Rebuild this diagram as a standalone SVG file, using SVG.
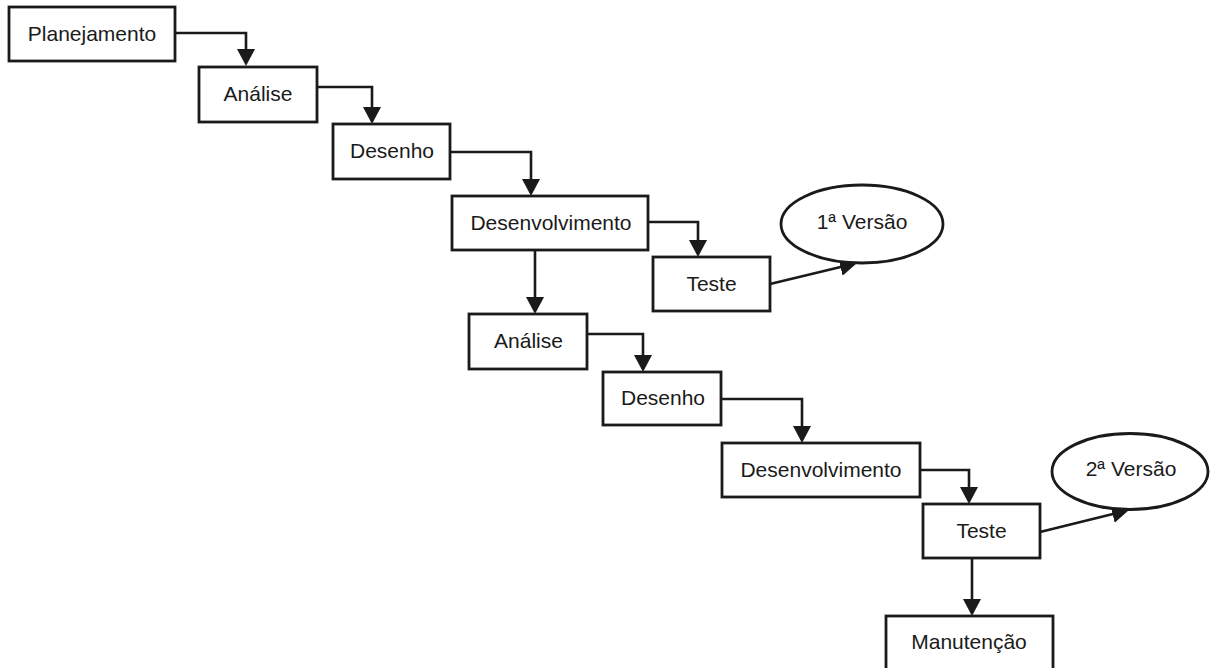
<svg xmlns="http://www.w3.org/2000/svg" width="1213" height="668" viewBox="0 0 1213 668">
<style>
.box{fill:#fff;stroke:#1a1a1a;stroke-width:2.8}
.lbl{font-family:"Liberation Sans",Arial,sans-serif;font-size:21px;fill:#1a1a1a;text-anchor:middle}
.con{fill:none;stroke:#1a1a1a;stroke-width:2.6}
</style>
<defs>
<marker id="arr" markerUnits="userSpaceOnUse" markerWidth="18" markerHeight="18" refX="14" refY="9" orient="auto">
<path d="M0,0 L17,9 L0,18 z" fill="#1a1a1a"/>
</marker>
</defs>
<rect width="1213" height="668" fill="#fff"/>
<g id="connectors">
<path class="con" marker-end="url(#arr)" d="M175,33 H246 V63"/>
<path class="con" marker-end="url(#arr)" d="M317,87 H372 V121"/>
<path class="con" marker-end="url(#arr)" d="M450,152 H531 V193"/>
<path class="con" marker-end="url(#arr)" d="M648,222 H698 V254"/>
<path class="con" marker-end="url(#arr)" d="M770,284 L854.1,263.7"/>
<path class="con" marker-end="url(#arr)" d="M535,250 V311"/>
<path class="con" marker-end="url(#arr)" d="M587,334 H643 V369"/>
<path class="con" marker-end="url(#arr)" d="M721,399 H802 V440"/>
<path class="con" marker-end="url(#arr)" d="M920,470 H969 V501"/>
<path class="con" marker-end="url(#arr)" d="M1040,532 L1126.1,510.7"/>
<path class="con" marker-end="url(#arr)" d="M972,558 V613"/>
</g>
<g id="n-planejamento"><rect class="box" x="9" y="7" width="166" height="54"/><text class="lbl" x="92" y="41">Planejamento</text></g>
<g id="n-analise1"><rect class="box" x="199" y="67" width="118" height="55"/><text class="lbl" x="258" y="101">Análise</text></g>
<g id="n-desenho1"><rect class="box" x="333" y="124" width="117" height="55"/><text class="lbl" x="392" y="158">Desenho</text></g>
<g id="n-desenvolvimento1"><rect class="box" x="452" y="196" width="196" height="54"/><text class="lbl" x="551" y="230">Desenvolvimento</text></g>
<g id="n-teste1"><rect class="box" x="653" y="257" width="117" height="54"/><text class="lbl" x="711.5" y="291">Teste</text></g>
<g id="n-versao1"><ellipse class="box" cx="862" cy="224" rx="81" ry="39"/><text class="lbl" x="862" y="229">1ª Versão</text></g>
<g id="n-analise2"><rect class="box" x="469" y="314" width="118" height="55"/><text class="lbl" x="528.5" y="348">Análise</text></g>
<g id="n-desenho2"><rect class="box" x="603" y="372" width="118" height="53"/><text class="lbl" x="663" y="405">Desenho</text></g>
<g id="n-desenvolvimento2"><rect class="box" x="722" y="443" width="198" height="54"/><text class="lbl" x="821" y="477">Desenvolvimento</text></g>
<g id="n-teste2"><rect class="box" x="923" y="504" width="117" height="54"/><text class="lbl" x="981.5" y="538">Teste</text></g>
<g id="n-versao2"><ellipse class="box" cx="1130" cy="471.5" rx="78" ry="38"/><text class="lbl" x="1131" y="476">2ª Versão</text></g>
<g id="n-manutencao"><rect class="box" x="886" y="616" width="167" height="56"/><text class="lbl" x="969" y="649">Manutenção</text></g>
</svg>
